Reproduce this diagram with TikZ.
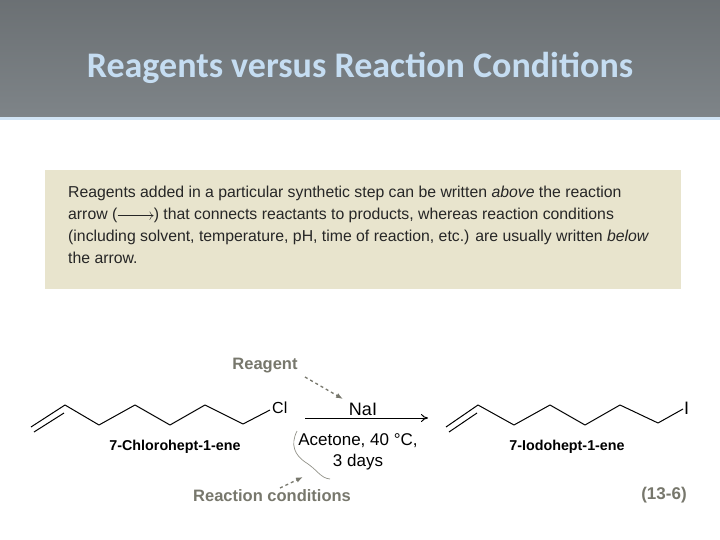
\documentclass[tikz,border=0pt]{standalone}
\usepackage{fontspec}
\setmainfont{Liberation Sans}
\newfontfamily\titlefont{Carlito}
\usetikzlibrary{arrows.meta}
\definecolor{hdr}{HTML}{7E8488}
\definecolor{ttl}{HTML}{C5DDF2}
\definecolor{boxc}{HTML}{E8E4CD}
\definecolor{anno}{HTML}{77776C}
\tikzset{bond/.style={line width=1pt,line join=round},
 lbl/.style={font=\bfseries\fontsize{14.3}{16}\selectfont},
 ann/.style={font=\bfseries\fontsize{16.5}{18}\selectfont,text=anno},
 dasharrow/.style={anno,line width=1.3pt,dashed,-{Latex[length=7pt]}}}
\begin{document}
\begin{tikzpicture}[x=1pt,y=-1pt]
\useasboundingbox (0,0) rectangle (720,540);
\fill[white] (0,0) rectangle (720,540);
\shade[top color=hdr!85!black,bottom color=hdr] (0,0) rectangle (720,117);
\fill[ttl!80!white] (0,117) rectangle (720,120);
\node[font=\titlefont\bfseries\fontsize{36}{40}\selectfont,text=ttl] (title) at (360,68) {Reagents versus Reaction Conditions};
\fill[boxc] (45,170) rectangle (681,289);
\node[anchor=north west,align=left,font=\fontsize{15.8}{22}\selectfont,text=black!85,inner sep=0pt] (txt) at (68,186)
{Reagents added in a particular synthetic step can be written \emph{above} the reaction\\
arrow (\tikz[baseline=-4pt]\draw[-{To[length=4pt]}] (0,0)--(36pt,0);) that connects reactants to products, whereas reaction conditions\\
(including solvent, temperature, pH, time of reaction, etc.) are usually written \emph{below}\\
the arrow.};
% left molecule
\draw[bond] (31,427)--(65,405)--(99,425)--(135,405)--(170,425)--(205,405)--(243,424)--(270,410);
\draw[bond] (34,432)--(64,413);
\node[font=\fontsize{16}{16}\selectfont,anchor=west,inner sep=1pt] (cl) at (271,408) {Cl};
\node[lbl] (lname) at (175,447) {7-Chlorohept-1-ene};
% right molecule
\draw[bond] (446,427)--(478,405)--(514,425)--(550,405)--(585,425)--(620,405)--(658,423)--(683,409);
\node[font=\fontsize{18}{18}\selectfont,anchor=west,inner sep=1pt] (io) at (683,408) {I};
\draw[bond] (449,432)--(477,413);
\node[lbl] (rname) at (567,447) {7-Iodohept-1-ene};
% arrow
\coordinate (a1) at (305,418); \coordinate (a2) at (428,418);
\draw[line width=1pt,-{To[length=7pt,width=8pt]}] (a1)--(a2);
\node[font=\fontsize{18}{18}\selectfont] (nai) at (363,409) {NaI};
\node[font=\fontsize{17}{21}\selectfont,align=center] (cond) at (358,452) {Acetone, 40 °C,\\3 days};
\node[ann] (reag) at (265,366) {Reagent};
\node[ann] (rc) at (272,496) {Reaction conditions};
\node[ann,font=\bfseries\fontsize{17}{18}\selectfont] (eq) at (664,495) {(13-6)};
\coordinate (rs) at (305,377);
\coordinate (ne) at (343,399);
\coordinate (bs) at (280,488);
\coordinate (bt) at (303,477);
\draw[dasharrow] (rs) -- (ne);
\draw[dasharrow] (bs) -- (bt);
\draw[anno!80,line width=0.7pt] (297,431) .. controls (290,445) and (295,455) .. (305,462) .. controls (318,470) and (320,478) .. (330,479);
\end{tikzpicture}
\end{document}
